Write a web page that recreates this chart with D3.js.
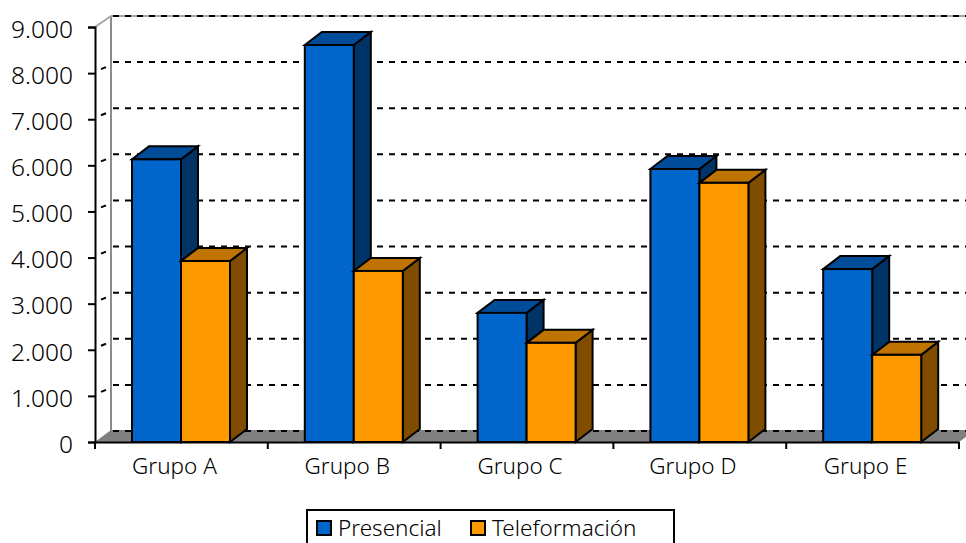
<!DOCTYPE html>
<html>
<head>
<meta charset="utf-8">
<script src="https://cdn.jsdelivr.net/npm/d3@7"></script>
<style>
html, body { margin: 0; padding: 0; background: #fff; }
svg { display: block; }
text { font-family: "Noto Sans", sans-serif; font-weight: 300; fill: #000; }
</style>
</head>
<body>
<svg id="chart" width="966" height="543"></svg>
<script>
var categories = ["Grupo A", "Grupo B", "Grupo C", "Grupo D", "Grupo E"];
var presencial = [6130, 8610, 2800, 5920, 3750];
var teleformacion = [3925, 3710, 2150, 5620, 1890];
var yTicks = [0, 1000, 2000, 3000, 4000, 5000, 6000, 7000, 8000, 9000];
var yTickLabels = ["0", "1.000", "2.000", "3.000", "4.000", "5.000", "6.000", "7.000", "8.000", "9.000"];
var seriesNames = ["Presencial", "Teleformación"];

var svg = d3.select("#chart");
var left = 95, right = 959, bottom = 442, top_ = 27;
var wallDx = 16, wallDy = -11;   // depth of the chart box
var barDx = 17, barDy = -13;     // depth of a bar

var x = d3.scaleBand().domain(categories).range([left, right]);
var y = d3.scaleLinear().domain([0, 9000]).range([bottom, top_]);
var inner = d3.scaleBand().domain([0, 1]).range([37, 135]);

// floor and walls
var walls = svg.append("g");
walls.append("path")
    .attr("d", d3.line()([[left, bottom], [left + wallDx, bottom + wallDy - 1], [966, bottom + wallDy - 1], [966, bottom - 5], [right, bottom]]) + "Z")
    .attr("fill", "#808080");
walls.append("line").attr("x1", left + wallDx).attr("x2", left + wallDx)
    .attr("y1", y(9000) + wallDy).attr("y2", bottom + wallDy)
    .attr("stroke", "#8c8c8c").attr("stroke-width", 2);
walls.append("line").attr("x1", left + wallDx).attr("x2", 966)
    .attr("y1", y(9000) + wallDy).attr("y2", y(9000) + wallDy)
    .attr("stroke", "#a6a6a6").attr("stroke-width", 2);
walls.append("line").attr("x1", left).attr("x2", left + wallDx)
    .attr("y1", y(9000)).attr("y2", y(9000) + wallDy)
    .attr("stroke", "#a6a6a6").attr("stroke-width", 2);

// dashed gridlines on the back wall, small mark on the side wall
var grid = svg.append("g");
grid.selectAll("line.grid").data(yTicks).enter().append("line")
    .attr("class", "grid")
    .attr("x1", left + wallDx + 2).attr("x2", 966)
    .attr("y1", function (d) { return y(d) + wallDy; })
    .attr("y2", function (d) { return y(d) + wallDy; })
    .attr("stroke", "#000").attr("stroke-width", 2)
    .attr("stroke-dasharray", "6,6");
grid.selectAll("line.mark").data(yTicks.slice(1, -1)).enter().append("line")
    .attr("class", "mark")
    .attr("x1", left + 6).attr("x2", left + 11)
    .attr("y1", function (d) { return y(d) - 4; })
    .attr("y2", function (d) { return y(d) - 6; })
    .attr("stroke", "#000").attr("stroke-width", 2);

function drawBar(g, bx, w, value, front, topColor, side) {
    var yt = y(value);
    g.append("path")
        .attr("d", d3.line()([[bx + w, yt], [bx + w + barDx, yt + barDy], [bx + w + barDx, bottom + barDy], [bx + w, bottom]]) + "Z")
        .attr("fill", side).attr("stroke", "#000").attr("stroke-width", 2);
    g.append("path")
        .attr("d", d3.line()([[bx, yt], [bx + barDx, yt + barDy], [bx + w + barDx, yt + barDy], [bx + w, yt]]) + "Z")
        .attr("fill", topColor).attr("stroke", "#000").attr("stroke-width", 2);
    g.append("rect")
        .attr("x", bx).attr("y", yt).attr("width", w).attr("height", bottom - yt)
        .attr("fill", front).attr("stroke", "#000").attr("stroke-width", 2);
}

var bars = svg.append("g");
categories.forEach(function (c, i) {
    drawBar(bars, x(c) + inner(0), inner.bandwidth(), presencial[i], "#0066cc", "#004c99", "#003366");
    drawBar(bars, x(c) + inner(1), inner.bandwidth(), teleformacion[i], "#ff9900", "#bf7300", "#804d00");
});

// axes
var yAxis = d3.axisLeft(y).tickValues(yTicks)
    .tickFormat(function (d, i) { return yTickLabels[i]; })
    .tickSize(7).tickPadding(15);
var yG = svg.append("g").attr("transform", "translate(" + left + ",0)").call(yAxis);
var xAxis = d3.axisBottom(x).tickSize(0).tickPadding(16);
var xG = svg.append("g").attr("transform", "translate(0," + bottom + ")").call(xAxis);
xG.selectAll("line.sep").data(d3.range(categories.length + 1)).enter().append("line")
    .attr("class", "sep")
    .attr("x1", function (d) { return left + d * x.step(); })
    .attr("x2", function (d) { return left + d * x.step(); })
    .attr("y1", 0).attr("y2", 7);
[yG, xG].forEach(function (g) {
    g.selectAll("path.domain").attr("stroke", "#000").attr("stroke-width", 2);
    g.selectAll("line").attr("stroke", "#000").attr("stroke-width", 2);
    g.attr("font-family", null).attr("font-size", null);
});
yG.selectAll("text").style("font-size", "24.5px").attr("dy", "0.42em");
xG.selectAll("text").style("font-size", "22.5px").attr("dx", -7);

// legend
var legend = svg.append("g");
legend.append("rect").attr("x", 307).attr("y", 510).attr("width", 367).attr("height", 50)
    .attr("fill", "#fff").attr("stroke", "#000").attr("stroke-width", 2);
var legendColors = ["#0066cc", "#ff9900"];
var swatchX = d3.scaleOrdinal().domain(seriesNames).range([317, 471]);
seriesNames.forEach(function (s, i) {
    legend.append("rect").attr("x", swatchX(s)).attr("y", 521).attr("width", 14).attr("height", 14)
        .attr("fill", legendColors[i]).attr("stroke", "#000").attr("stroke-width", 2);
    legend.append("text").attr("x", swatchX(s) + 21).attr("y", 536)
        .style("font-size", "22.5px").text(s);
});
</script>
</body>
</html>
